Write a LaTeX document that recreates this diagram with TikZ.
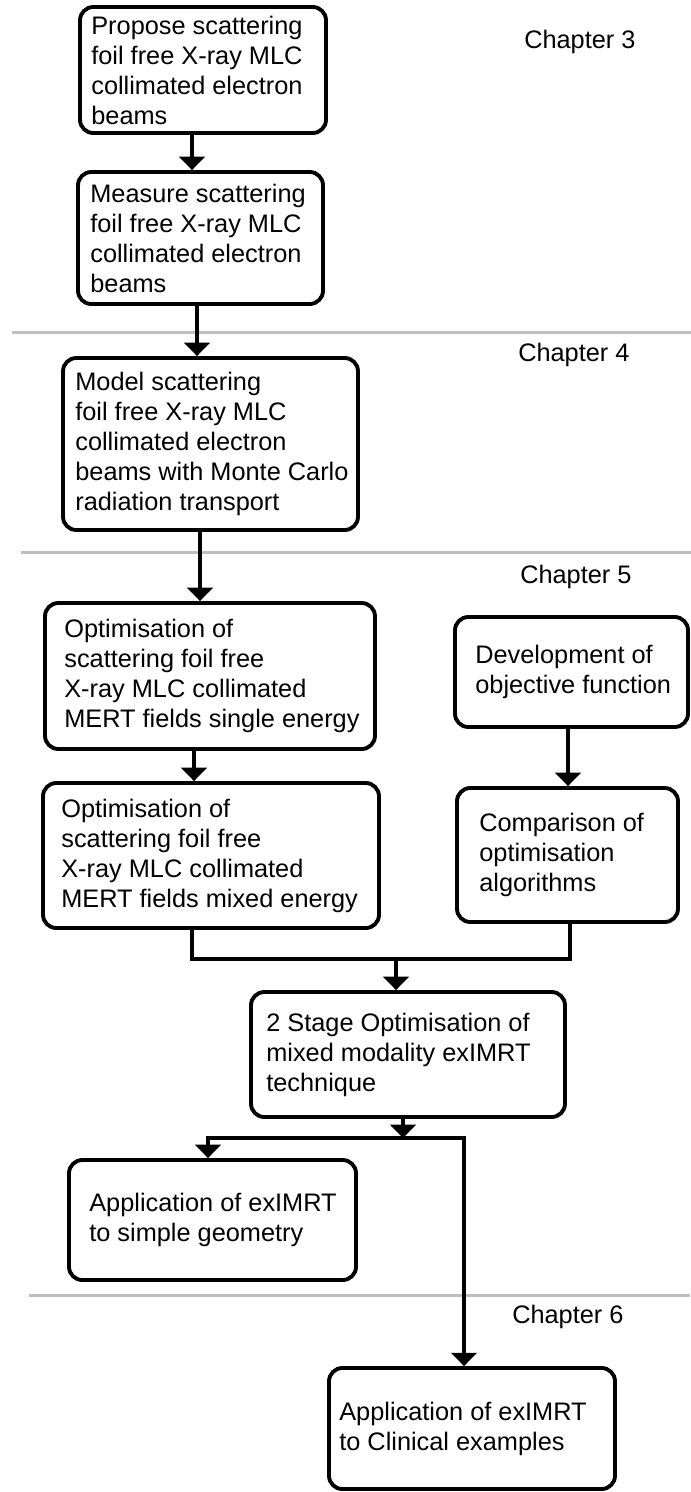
\documentclass[tikz,border=0pt]{standalone}
\usepackage{fontspec}
\setmainfont{Liberation Sans}
\usetikzlibrary{arrows.meta,calc,fit}
\definecolor{sepgray}{RGB}{191,191,191}
\begin{document}
\begin{tikzpicture}[x=0.75pt,y=-0.75pt,
  box/.style={draw, line width=2.9pt, rounded corners=10pt, inner sep=0pt},
  txt/.style={inner sep=0pt, align=left, anchor=west, font=\fontsize{19pt}{22.5pt}\selectfont},
  arr/.style={line width=2.4pt, -{Triangle[length=10pt,width=19pt]}},
  ln/.style={line width=2.4pt},
  sepline/.style={draw=sepgray, line width=2.25pt},
  chap/.style={inner sep=0pt, anchor=west, font=\fontsize{19pt}{22.5pt}\selectfont}]
\useasboundingbox (0,0) rectangle (691,1492);

% chapter separators
\draw[sepline] (12,332) -- (691,332);
\draw[sepline] (21,552) -- (691,552);
\draw[sepline] (29,1295) -- (690,1295);

% chapter labels
\node[chap] (c3) at (524,42) {Chapter 3};
\node[chap] (c4) at (518,355) {Chapter 4};
\node[chap] (c5) at (520,577) {Chapter 5};
\node[chap] (c6) at (512,1317) {Chapter 6};

% boxes
\node[box, fit={(80,7) (326,133)}] (b1) {};
\node[box, fit={(78,172) (323,304)}] (b2) {};
\node[box, fit={(63,358) (358,530)}] (b3) {};
\node[box, fit={(45,603) (375,749)}] (b4) {};
\node[box, fit={(455,617) (688,727)}] (b5) {};
\node[box, fit={(43,783) (379,928)}] (b6) {};
\node[box, fit={(457,788) (678,922)}] (b7) {};
\node[box, fit={(251,992) (565,1117)}] (b8) {};
\node[box, fit={(69,1160) (356,1280)}] (b9) {};
\node[box, fit={(329,1368) (615,1489)}] (b10) {};

% texts
\node[txt] (t1) at ($(b1.west)+(13,0)$) {Propose scattering\\foil free X-ray MLC\\collimated electron\\beams};
\node[txt] (t2) at ($(b2.west)+(14,0)$) {Measure scattering\\foil free X-ray MLC\\collimated electron\\beams};
\node[txt] (t3) at ($(b3.west)+(14,0)$) {Model scattering\\foil free X-ray MLC\\collimated electron\\beams with Monte Carlo\\radiation transport};
\node[txt] (t4) at ($(b4.west)+(21,0)$) {Optimisation of\\scattering foil free\\X-ray MLC collimated\\MERT fields single energy};
\node[txt] (t5) at ($(b5.west)+(22,0)$) {Development of\\objective function};
\node[txt] (t6) at ($(b6.west)+(20,0)$) {Optimisation of\\scattering foil free\\X-ray MLC collimated\\MERT fields mixed energy};
\node[txt] (t7) at ($(b7.west)+(24,0)$) {Comparison of\\optimisation\\algorithms};
\node[txt] (t8) at ($(b8.west)+(17,0)$) {2 Stage Optimisation of\\mixed modality exIMRT\\technique};
\node[txt] (t9) at ($(b9.west)+(22,0)$) {Application of exIMRT\\to simple geometry};
\node[txt] (t10) at ($(b10.west)+(12,0)$) {Application of exIMRT\\to Clinical examples};

% connector x positions
\coordinate (a1) at (192,0);
\coordinate (a2) at (197,0);
\coordinate (a3) at (200,0);
\coordinate (a4) at (194,0);
\coordinate (a5) at (568,0);
\coordinate (ml) at (192,959);
\coordinate (mr) at (570,959);
\coordinate (mj) at (396,959);
\coordinate (sj) at (403,1138);
\coordinate (jl) at (208,1138);
\coordinate (jr) at (464,1138);

\draw[arr] (b1.south -| a1) -- (b2.north -| a1);
\draw[arr] (b2.south -| a2) -- (b3.north -| a2);
\draw[arr] (b3.south -| a3) -- (b4.north -| a3);
\draw[arr] (b4.south -| a4) -- (b6.north -| a4);
\draw[arr] (b5.south -| a5) -- (b7.north -| a5);
\draw[ln] (b6.south -| ml) -- (ml) -- (mr) -- (b7.south -| mr);
\draw[arr] (mj) -- (b8.north -| mj);
\draw[arr] (b8.south -| sj) -- (sj);
\draw[arr] (jr) -- (jl) -- (b9.north -| jl);
\draw[arr] (jl) -- (jr) -- (b10.north -| jr);
\end{tikzpicture}
\end{document}
